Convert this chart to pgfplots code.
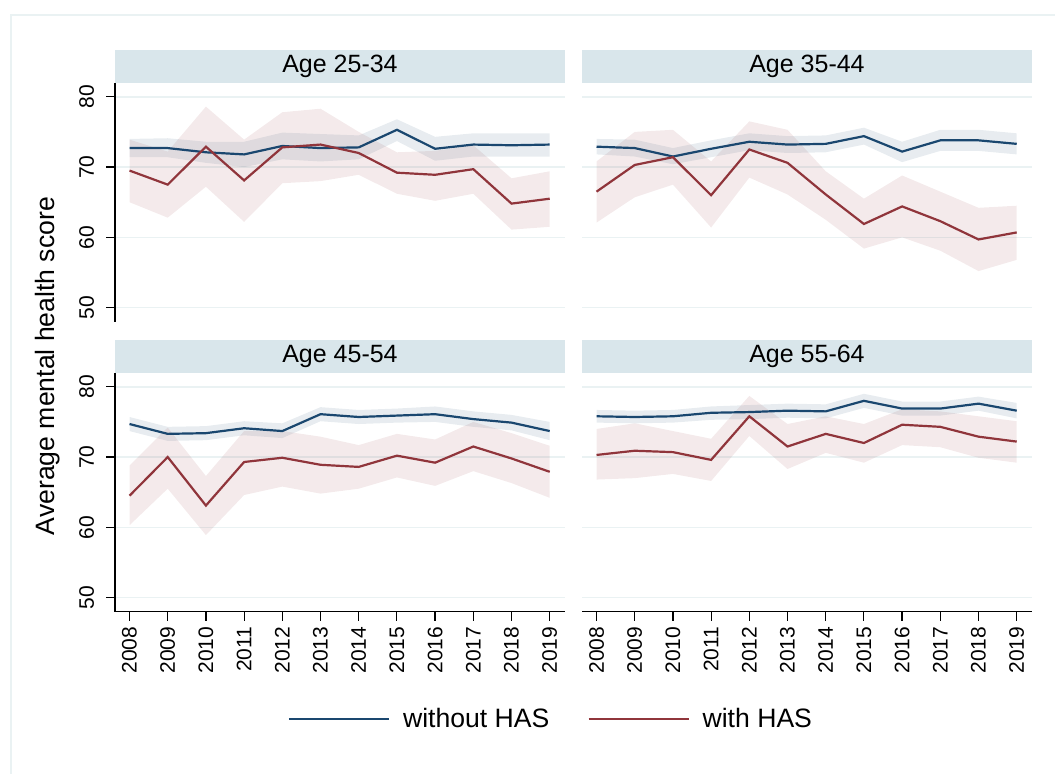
\documentclass[border=0pt]{standalone}
\usepackage{fontspec}
\setmainfont{Liberation Sans}
\usepackage{pgfplots}
\usepgfplotslibrary{fillbetween}
\pgfplotsset{compat=1.18}
\usepackage{pgfplotstable}
\definecolor{navy}{HTML}{1A476F}
\definecolor{maroon}{HTML}{90353B}
\definecolor{stripc}{HTML}{D9E6EB}
\definecolor{gridc}{HTML}{EAF2F3}

\pgfplotstableread{
year wo wolo wohi w wlo whi
2008 72.7 71.4 74.0 69.5 65.0 73.9
2009 72.7 71.4 74.1 67.5 62.8 72.2
2010 72.1 70.6 73.6 72.9 67.2 78.6
2011 71.8 70.0 73.6 68.1 62.2 73.9
2012 73.0 71.1 74.9 72.8 67.7 77.8
2013 72.7 70.8 74.7 73.2 68.0 78.3
2014 72.8 71.1 74.5 72.0 68.9 75.0
2015 75.3 73.7 76.8 69.2 66.2 72.1
2016 72.6 70.9 74.3 68.9 65.2 72.3
2017 73.2 71.5 74.8 69.7 66.2 73.1
2018 73.1 71.5 74.8 64.8 61.1 68.4
2019 73.2 71.5 74.8 65.5 61.5 69.4
}\tA
\pgfplotstableread{
year wo wolo wohi w wlo whi
2008 72.9 71.8 74.0 66.5 62.1 70.8
2009 72.7 71.5 73.9 70.3 65.7 75.0
2010 71.5 70.4 72.7 71.4 67.5 75.3
2011 72.6 71.4 73.8 66.0 61.4 70.8
2012 73.6 72.4 74.8 72.5 68.5 76.5
2013 73.2 72.0 74.4 70.6 66.1 75.3
2014 73.3 72.1 74.5 66.1 62.5 69.4
2015 74.4 73.2 75.6 61.9 58.4 65.5
2016 72.2 70.7 73.6 64.4 60.0 68.8
2017 73.8 72.3 75.3 62.3 58.1 66.5
2018 73.8 72.3 75.3 59.7 55.2 64.2
2019 73.3 71.8 74.8 60.7 56.8 64.5
}\tB
\pgfplotstableread{
year wo wolo wohi w wlo whi
2008 74.7 73.7 75.7 64.5 60.3 68.8
2009 73.3 72.3 74.3 70.0 65.5 74.2
2010 73.4 72.4 74.4 63.1 58.9 67.3
2011 74.1 73.1 75.1 69.3 64.6 73.7
2012 73.7 72.7 74.8 69.9 65.8 73.7
2013 76.1 75.1 77.1 68.9 64.8 72.9
2014 75.7 74.7 76.7 68.6 65.5 71.7
2015 75.9 74.9 76.9 70.2 67.1 73.3
2016 76.1 75.0 77.2 69.2 65.9 72.5
2017 75.4 74.3 76.5 71.5 68.0 75.0
2018 74.9 73.8 76.0 69.8 66.3 73.4
2019 73.7 72.4 75.0 67.9 64.2 71.6
}\tC
\pgfplotstableread{
year wo wolo wohi w wlo whi
2008 75.8 74.9 76.7 70.3 66.8 74.0
2009 75.7 74.8 76.6 70.9 67.0 74.8
2010 75.8 74.9 76.7 70.7 67.6 73.7
2011 76.3 75.3 77.2 69.6 66.6 72.6
2012 76.4 75.4 77.4 75.8 73.0 78.7
2013 76.6 75.6 77.6 71.5 68.3 74.7
2014 76.5 75.5 77.5 73.3 70.6 75.8
2015 78.0 77.0 79.0 72.0 69.2 74.7
2016 76.9 75.9 77.9 74.6 71.7 76.8
2017 76.9 75.9 77.9 74.3 71.4 76.5
2018 77.6 76.6 78.6 72.9 69.9 75.8
2019 76.6 75.5 77.7 72.2 69.2 75.1
}\tD

\pgfplotsset{
  panel/.style={
    scale only axis, width=225pt, height=119.5pt,
    xmin=2007.62, xmax=2019.4, ymin=48, ymax=82,
    axis lines*=left, clip=false,
    ytick={50,60,70,80}, xtick={2008,...,2019},
    ymajorgrids, grid style={color=gridc, line width=0.8pt},
    tick style={black, line width=0.6pt}, major tick length=4.5pt, tick align=outside,
    axis line style={black, line width=0.6pt},
    /pgf/number format/assume math mode=true,
    /pgf/number format/1000 sep={},
    tick label style={font=\fontsize{10.5}{12}\selectfont},
    yticklabel style={rotate=90, anchor=south, inner sep=0pt, outer sep=6pt},
    xticklabel style={rotate=90, anchor=east, inner sep=0pt, outer sep=3pt},
  },
  nox/.style={xtick=\empty, x axis line style={draw=none}},
  noy/.style={yticklabels={}, ytick style={draw=none}, y axis line style={draw=none}},
}

\newcommand{\panelbody}[2]{%
  \fill[stripc] (rel axis cs:0,1) rectangle ([yshift=16.35pt]rel axis cs:1,1);
  \node[font=\fontsize{12.5}{14}\selectfont] at ([yshift=8.2pt]rel axis cs:0.5,1) {#2};
  \addplot[name path=bu, draw=none, forget plot] table[x=year, y=wohi] {#1};
  \addplot[name path=bl, draw=none, forget plot] table[x=year, y=wolo] {#1};
  \addplot[navy, fill opacity=0.1, forget plot] fill between[of=bu and bl];
  \addplot[name path=ru, draw=none, forget plot] table[x=year, y=whi] {#1};
  \addplot[name path=rl, draw=none, forget plot] table[x=year, y=wlo] {#1};
  \addplot[maroon, fill opacity=0.1, forget plot] fill between[of=ru and rl];
  \addplot[navy, line width=1.1pt] table[x=year, y=wo] {#1};
  \addplot[maroon, line width=1.1pt] table[x=year, y=w] {#1};
}

\begin{document}
\begin{tikzpicture}

\begin{axis}[panel, nox, at={(57.5pt,225.65pt)}, anchor=south west]
\panelbody{\tA}{Age 25-34}
\end{axis}

\begin{axis}[panel, nox, noy, at={(291pt,225.65pt)}, anchor=south west]
\panelbody{\tB}{Age 35-44}
\end{axis}

\begin{axis}[panel, at={(57.5pt,80.65pt)}, anchor=south west,
  legend columns=2,
  legend style={draw=none, fill=none, at={(0.971,-0.449)}, anchor=center,
    font=\fontsize{13.3}{15}\selectfont,
    /tikz/every odd column/.append style={column sep=4.5pt},
    /tikz/every even column/.append style={column sep=17pt}},
  legend image code/.code={\draw[#1] (0pt,0pt) -- (50pt,0pt);},
  ]
\panelbody{\tC}{Age 45-54}
\addlegendentry{without HAS}
\addlegendentry{with HAS}
\end{axis}

\begin{axis}[panel, noy, at={(291pt,80.65pt)}, anchor=south west]
\panelbody{\tD}{Age 55-64}
\end{axis}

\node[rotate=90, font=\fontsize{13.3}{15}\selectfont] at (24pt,203.5pt) {Average mental health score};
\draw[gridc, line width=0.9pt] (5.5pt,-20pt) rectangle (560pt,379pt);
\pgfresetboundingbox
\path[use as bounding box] (0,0) rectangle (527.5pt,386.5pt);
\end{tikzpicture}
\end{document}
